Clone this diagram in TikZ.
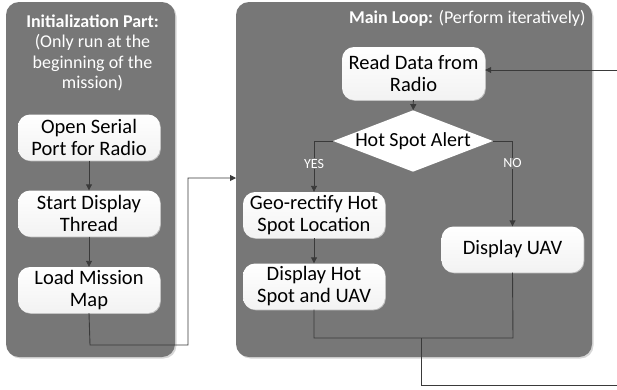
\documentclass[tikz,border=0pt]{standalone}
\usepackage{fontspec}
\setmainfont{Carlito}
\usetikzlibrary{arrows.meta,shapes.geometric,shadows}
\definecolor{panelgray}{HTML}{777777}
\definecolor{linegray}{HTML}{3A3A3A}
\tikzset{
  panel/.style={fill=panelgray, rounded corners=13pt, draw=none, inner sep=0pt,
    drop shadow={shadow xshift=1.5pt, shadow yshift=-1.5pt, fill=gray!40, opacity=0.8}},
  procbox/.style={rounded corners=12pt, top color=white, bottom color=gray!10, draw=none,
    minimum width=142pt, minimum height=46pt, align=center, inner sep=1pt,
    font=\fontsize{20.5}{22}\selectfont, text=black,
    drop shadow={shadow xshift=0.8pt, shadow yshift=-0.8pt, fill=gray!45, opacity=0.9}},
  decbox/.style={diamond, aspect=2.6, fill=white, draw=none, inner sep=0pt,
    minimum width=150pt, minimum height=58pt, font=\fontsize{20}{22}\selectfont},
  conn/.style={draw=linegray, line width=0.9pt},
  arr/.style={conn, -{Triangle[length=6pt,width=6pt]}},
  yn/.style={fill=panelgray, text=white, inner sep=1pt, font=\fontsize{14}{16}\selectfont},
  hdr/.style={text=white, align=center, font=\fontsize{18}{20.5}\selectfont}
}
\begin{document}
\begin{tikzpicture}[x=1pt,y=-1pt]
\useasboundingbox (0,0) rectangle (617,389);
\clip (0,0) rectangle (617,389);
% panels
\node[panel, minimum width=169pt, minimum height=355pt] (initp) at (90.5,179.5) {};
\node[panel, minimum width=356pt, minimum height=355pt] (mainp) at (414,179.5) {};
% headers
\node[hdr] (inith) at (92.5,53) {\textbf{Initialization Part:}\\(Only run at the\\beginning of the\\mission)};
\node[hdr, anchor=east] (mainh) at (589,18) {\textbf{Main Loop:} (Perform iteratively)};
% init boxes
\node[procbox] (open) at (89,137.5) {Open Serial\\Port for Radio};
\node[procbox] (start) at (89,213.5) {Start Display\\Thread};
\node[procbox] (load) at (89,290) {Load Mission\\Map};
% main boxes
\node[procbox, minimum width=143pt, minimum height=53pt] (read) at (413.5,73.5) {Read Data from\\Radio};
\node[decbox] (alert) at (413,141) {Hot Spot Alert};
\node[procbox] (geo) at (314,215) {Geo-rectify Hot\\Spot Location};
\node[procbox] (disphs) at (314,286.5) {Display Hot\\Spot and UAV};
\node[procbox] (dispuav) at (512.5,249.5) {Display UAV};
% coordinates
\coordinate (c1) at (90,345);
\coordinate (c2) at (188,345);
\coordinate (c3) at (188,178);
\coordinate (c4) at (236,178);
\coordinate (m1) at (314,338);
\coordinate (m2) at (513,338);
\coordinate (mm) at (421,338);
\coordinate (b1) at (421,385);
\coordinate (b2) at (640,385);
\coordinate (b3) at (640,70);
% connectors
\draw[arr] (open) -- (start);
\draw[arr] (start) -- (load);
\draw[arr] (load.south) -- (c1) -- (c2) -- (c3) -- (c4);
\draw[arr] (read) -- (alert);
\draw[arr] (alert.west) -| node[yn, pos=0.725] (yes) {YES} (geo.north);
\draw[arr] (alert.east) -| node[yn, pos=0.63] (no) {NO} (dispuav.north);
\draw[arr] (geo) -- (disphs);
\draw[conn] (disphs.south) -- (m1) -- (m2) -- (dispuav.south);
\draw[arr] (mm) -- (b1) -- (b2) -- (b3) -- (read.east |- b3);
\end{tikzpicture}
\end{document}
